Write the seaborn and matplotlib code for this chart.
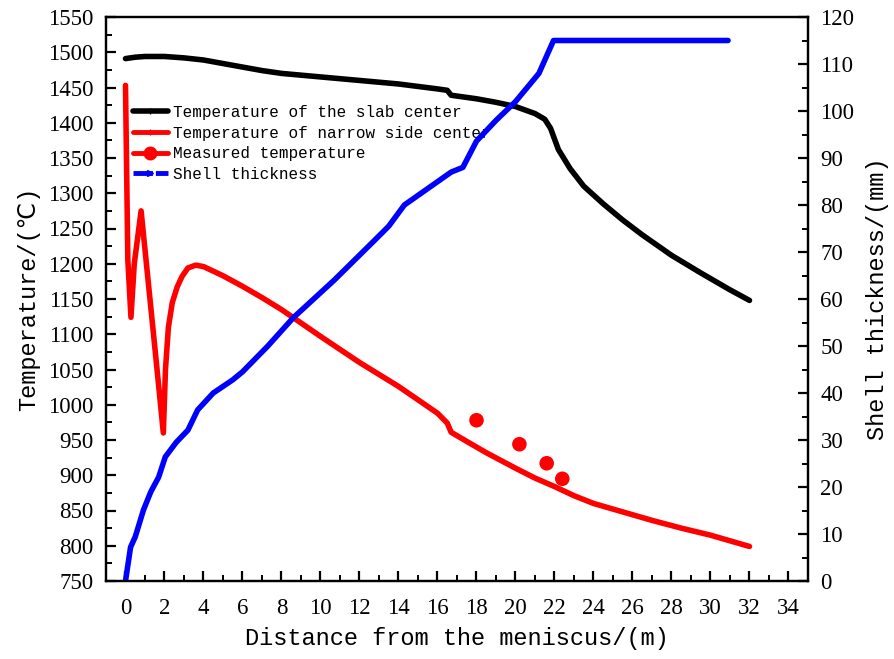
import matplotlib
matplotlib.use("Agg")
import matplotlib.pyplot as plt
from matplotlib.lines import Line2D
from matplotlib.ticker import MultipleLocator
import seaborn as sns
import pandas as pd

# ---- data ----
x_center = [0, 0.5, 1, 2, 3, 4, 5, 6, 7, 8, 10, 12, 14, 16, 16.5, 16.7, 18, 19, 20, 21,
            21.5, 21.8, 22.2, 22.8, 23.5, 24.5, 25.5, 26.5, 28, 29.5, 31, 32]
t_center = [1491, 1493, 1494, 1494, 1492, 1489, 1484, 1479, 1474, 1470, 1465, 1460, 1455,
            1448, 1446, 1439, 1434, 1429, 1423, 1413, 1405, 1392, 1362, 1335, 1310, 1285,
            1262, 1241, 1212, 1187, 1163, 1148]

x_narrow = [0, 0.12, 0.28, 0.45, 0.8, 1.2, 1.6, 1.94, 2.05, 2.2, 2.4, 2.65, 2.9, 3.2, 3.6,
            4.0, 5, 6, 7, 8, 9, 10, 12, 14, 15, 16, 16.5, 16.7, 17.5, 18.5, 20, 21, 22, 23,
            24, 25.5, 27, 28.5, 30, 31, 32]
t_narrow = [1453, 1205, 1124, 1200, 1275, 1165, 1055, 960, 1050, 1110, 1145, 1167, 1182,
            1194, 1198, 1196, 1183, 1168, 1152, 1135, 1116, 1097, 1060, 1026, 1007, 988, 974,
            961, 948, 932, 910, 896, 884, 871, 860, 848, 836, 825, 815, 807, 799]

x_measured = [18.0, 20.2, 21.6, 22.4]
t_measured = [978, 944, 917, 895]

x_shell = [0, 0.26, 0.5, 0.92, 1.3, 1.7, 2.04, 2.6, 3.2, 3.7, 4.5, 5.5, 6.0, 7.3, 8.6, 10.7,
           12.8, 13.5, 14.3, 15.5, 16.7, 17.3, 18, 19, 20, 21.2, 21.95, 25, 28, 30.9]
s_shell = [0, 7.2, 9.4, 15.1, 19, 22.1, 26.4, 29.5, 32.1, 36.4, 40, 42.8, 44.5, 50, 56, 64,
           72.6, 75.5, 80, 83.5, 87, 88, 93.6, 98, 102, 108, 115, 115, 115, 115]

labels = ["Temperature of the slab center", "Temperature of narrow side center",
          "Measured temperature", "Shell thickness"]
x_ticks = list(range(0, 35, 2))
t_ticks = list(range(750, 1551, 50))
s_ticks = list(range(0, 121, 10))

# ---- style ----
sns.set_style("ticks")
plt.rcParams["font.family"] = ["Liberation Serif", "DejaVu Serif"]
plt.rcParams.update({
    "axes.linewidth": 1.6,
    "axes.edgecolor": "black",
    "axes.labelcolor": "black",
    "xtick.color": "black",
    "ytick.color": "black",
    "text.color": "black",
})

fig = plt.figure(figsize=(8.95, 6.59), dpi=100)
ax = fig.add_axes([106 / 895, 1 - 581 / 659, 702 / 895, 564 / 659])
ax2 = ax.twinx()

df_c = pd.DataFrame({"x": x_center, "y": t_center})
df_n = pd.DataFrame({"x": x_narrow, "y": t_narrow})
df_m = pd.DataFrame({"x": x_measured, "y": t_measured})
df_s = pd.DataFrame({"x": x_shell, "y": s_shell})

sns.lineplot(data=df_c, x="x", y="y", ax=ax, color="black", lw=4, sort=False,
             estimator=None, legend=False)
sns.lineplot(data=df_n, x="x", y="y", ax=ax, color="#ff0000", lw=4, sort=False,
             estimator=None, legend=False)
sns.scatterplot(data=df_m, x="x", y="y", ax=ax, color="#ff0000", s=110, edgecolor="none",
                legend=False, zorder=5)
sns.lineplot(data=df_s, x="x", y="y", ax=ax2, color="#0000ff", lw=4, sort=False,
             estimator=None, legend=False)

ax.set_xlim(-1, 35)
ax.set_ylim(750, 1550)
ax2.set_ylim(0, 120)

ax.set_xticks(x_ticks)
ax.set_xticklabels([str(v) for v in x_ticks])
ax.set_yticks(t_ticks)
ax.set_yticklabels([str(v) for v in t_ticks])
ax2.set_yticks(s_ticks)
ax2.set_yticklabels([str(v) for v in s_ticks])
ax.xaxis.set_minor_locator(MultipleLocator(1))
ax.yaxis.set_minor_locator(MultipleLocator(25))
ax2.yaxis.set_minor_locator(MultipleLocator(5))

for a in (ax, ax2):
    a.tick_params(which="major", direction="in", length=7, width=1.6, labelsize=16.5, pad=9,
                  color="black", labelcolor="black")
    a.tick_params(which="minor", direction="in", length=4, width=1.4, color="black")
    for sp in a.spines.values():
        sp.set_visible(True)
        sp.set_linewidth(1.6)
        sp.set_color("black")
ax.tick_params(axis="x", which="major", pad=12)
ax.tick_params(right=False, top=False, which="both")
ax2.tick_params(left=False, top=False, which="both")

mono = ["Liberation Mono", "DejaVu Sans Mono"]
ax.set_xlabel("Distance from the meniscus/(m)", fontsize=17, family=mono, labelpad=6)
ax.set_ylabel("Temperature/(℃)", fontsize=17, family=["Liberation Mono", "DejaVu Sans"],
              labelpad=6)
ax2.set_ylabel("Shell thickness/(mm)", fontsize=17, family=mono, labelpad=8)

handles = [
    Line2D([], [], color="black", lw=4, marker="|", ms=4),
    Line2D([], [], color="#ff0000", lw=3.5, marker="|", ms=4),
    Line2D([], [], color="#ff0000", lw=3.5, marker="o", ms=9),
    Line2D([], [], color="#0000ff", lw=3.5, ls=(0, (4, 0.6)), marker=">", ms=4),
]
ax.legend(handles, labels, loc="upper left", bbox_to_anchor=(0.038, 0.844),
          frameon=False, borderpad=0, borderaxespad=0, handlelength=2.2,
          handletextpad=0.3, labelspacing=0.35, prop={"family": mono, "size": 11.5})

fig.savefig("out.png", dpi=100)
